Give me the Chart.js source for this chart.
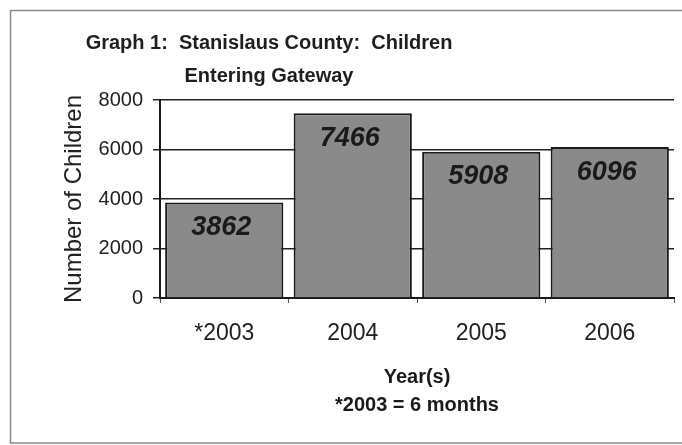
<!DOCTYPE html>
<html>
<head>
<meta charset="utf-8">
<script src="https://cdn.jsdelivr.net/npm/chart.js@4.4.1/dist/chart.umd.min.js"></script>
<style>
  html, body { margin: 0; padding: 0; background: #fff; overflow: hidden; }
  #wrap { width: 682px; height: 445px; position: relative; }
</style>
</head>
<body>
<div id="wrap"><canvas id="c" width="682" height="445"></canvas></div>
<script>
const titleLines = ['Graph 1:  Stanislaus County:  Children', 'Entering Gateway'];
const categories = ['*2003', '2004', '2005', '2006'];
const children = [3862, 7466, 5908, 6096];
const yTicks = [0, 2000, 4000, 6000, 8000];
const yTitle = 'Number of Children';
const xTitle = ['Year(s)', '*2003 = 6 months'];

const FONT = "'Liberation Sans', Arial, Helvetica, sans-serif";

const framePlugin = {
  id: 'frame',
  beforeDraw(chart) {
    const ctx = chart.ctx;
    ctx.save();
    ctx.fillStyle = '#fff';
    ctx.fillRect(0, 0, chart.width, chart.height);
    ctx.strokeStyle = '#8a8a8a';
    ctx.lineWidth = 1.5;
    ctx.beginPath();
    ctx.moveTo(chart.width, 10.5);
    ctx.lineTo(10.5, 10.5);
    ctx.lineTo(10.5, 443);
    ctx.lineTo(chart.width, 443);
    ctx.stroke();
    // title
    ctx.fillStyle = '#1e1e1e';
    ctx.font = 'bold 20px ' + FONT;
    ctx.textAlign = 'center';
    ctx.textBaseline = 'middle';
    ctx.fillText(titleLines[0], 269, 43);
    ctx.fillText(titleLines[1], 269, 76);
    ctx.restore();
  }
};

const valueLabels = {
  id: 'valueLabels',
  afterDatasetsDraw(chart) {
    const ctx = chart.ctx;
    const meta = chart.getDatasetMeta(0);
    ctx.save();
    ctx.fillStyle = '#1a1a1a';
    ctx.font = 'italic bold 27px ' + FONT;
    ctx.textAlign = 'center';
    ctx.textBaseline = 'middle';
    meta.data.forEach((bar, i) => {
      ctx.fillText(String(children[i]), bar.x - 3, bar.y + 25);
    });
    ctx.restore();
  }
};

new Chart(document.getElementById('c'), {
  type: 'bar',
  data: {
    labels: categories,
    datasets: [{
      data: children,
      backgroundColor: '#8a8a8a',
      borderColor: '#1a1a1a',
      borderWidth: 2,
      barPercentage: 0.92,
      categoryPercentage: 1.0
    }]
  },
  options: {
    responsive: false,
    devicePixelRatio: 1,
    animation: false,
    layout: { padding: { left: 60, top: 100, right: 8, bottom: 26 } },
    plugins: {
      legend: { display: false },
      title: { display: false },
      tooltip: { enabled: false }
    },
    scales: {
      x: {
        afterFit(s) { s.height = 121; },
        grid: {
          display: true,
          drawOnChartArea: false,
          drawTicks: true,
          tickLength: 5,
          color: '#555',
          lineWidth: 1
        },
        border: { display: true, color: '#1a1a1a', width: 2 },
        ticks: {
          color: '#222',
          font: { family: FONT, size: 23 },
          padding: 17,
          maxRotation: 0
        },
        title: {
          display: true,
          text: xTitle,
          color: '#1a1a1a',
          font: { family: FONT, size: 20, weight: 'bold', lineHeight: 1.4 },
          padding: { top: 0, bottom: 0 }
        }
      },
      y: {
        min: 0,
        max: 8000,
        afterFit(s) { s.width = 100; },
        afterBuildTicks(s) { s.ticks = yTicks.map(v => ({ value: v })); },
        grid: {
          color: '#222',
          lineWidth: 1.5,
          drawTicks: true,
          tickLength: 7
        },
        border: { display: true, color: '#1a1a1a', width: 2 },
        ticks: {
          color: '#222',
          font: { family: FONT, size: 20 },
          padding: 10,
          callback: (v) => String(v)
        },
        title: {
          display: true,
          text: yTitle,
          color: '#222',
          font: { family: FONT, size: 24 },
          padding: { top: 0, bottom: 0 }
        }
      }
    }
  },
  plugins: [framePlugin, valueLabels]
});
</script>
</body>
</html>
